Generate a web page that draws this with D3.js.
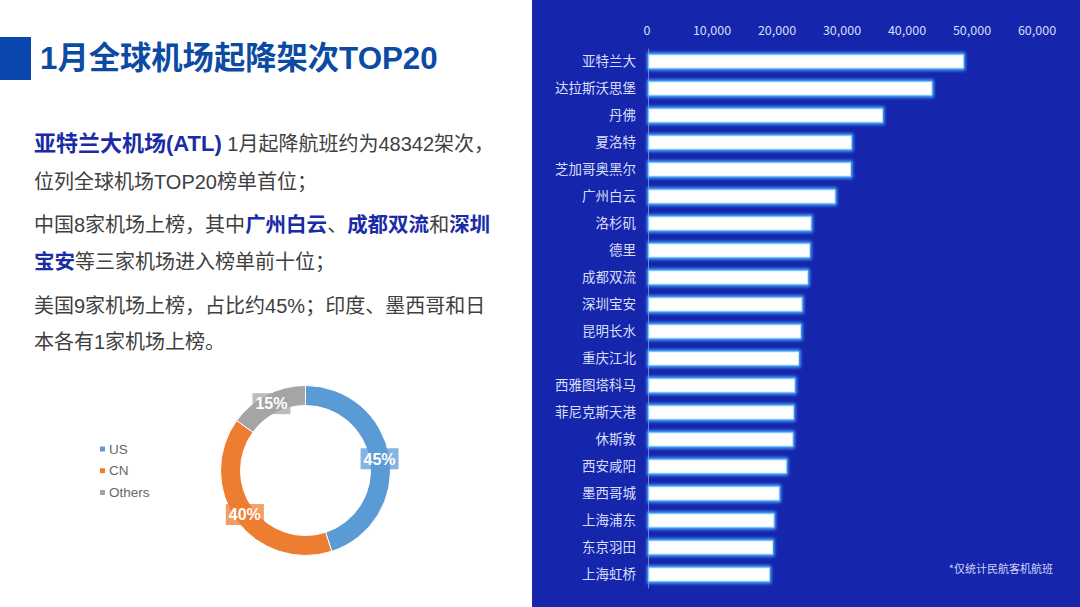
<!DOCTYPE html>
<html>
<head>
<meta charset="utf-8">
<script src="https://cdn.jsdelivr.net/npm/d3@7"></script>
<style>
  html, body { margin: 0; padding: 0; background: #fff; }
  svg { display: block; }
  text { font-family: "Noto Sans CJK SC", "Liberation Sans", sans-serif; }
  .latin { font-family: "Liberation Sans", "Noto Sans CJK SC", sans-serif; }
  .axis path, .axis line { stroke: #6f7fd0; }
  .axis text { fill: #d8def8; font-size: 13.5px; }
  .plain { fill: #404040; font-size: 20px; font-weight: 400; }
  .lead { fill: #1a2ba8; font-size: 22px; font-weight: 700; }
  .hi { fill: #1a2ba8; font-size: 20.5px; font-weight: 700; }
</style>
</head>
<body>
<svg id="chart" width="1080" height="607"></svg>
<script>
const airports = ['亚特兰大', '达拉斯沃思堡', '丹佛', '夏洛特', '芝加哥奥黑尔', '广州白云', '洛杉矶', '德里', '成都双流', '深圳宝安',
  '昆明长水', '重庆江北', '西雅图塔科马', '菲尼克斯天港', '休斯敦', '西安咸阳', '墨西哥城', '上海浦东', '东京羽田', '上海虹桥'];
const flights = [48342, 43500, 35900, 31100, 31000, 28600, 24900, 24700, 24400, 23500,
  23300, 23000, 22400, 22200, 22100, 21100, 20000, 19200, 19000, 18500];
const xTicks = [0, 10000, 20000, 30000, 40000, 50000, 60000];

const regions = ['US', 'CN', 'Others'];
const shares = [45, 40, 15];
const regionColors = ['#5b9bd5', '#ed7d31', '#a5a5a5'];

const bodyLines = [
  [['亚特兰大机场(ATL)', 'lead'], [' 1月起降航班约为48342架次，', 'plain']],
  [['位列全球机场TOP20榜单首位；', 'plain']],
  [['中国8家机场上榜，其中', 'plain'], ['广州白云', 'hi'], ['、', 'plain'], ['成都双流', 'hi'], ['和', 'plain'], ['深圳', 'hi']],
  [['宝安', 'hi'], ['等三家机场进入榜单前十位；', 'plain']],
  [['美国9家机场上榜，占比约45%；印度、墨西哥和日', 'plain']],
  [['本各有1家机场上榜。', 'plain']]
];
const bodyY = [151, 189, 232, 269, 313, 349];

const svg = d3.select('#chart');

// glow for the bars
const glow = svg.append('defs').append('filter')
  .attr('id', 'glow').attr('x', '-5%').attr('y', '-80%').attr('width', '110%').attr('height', '260%');
glow.append('feGaussianBlur').attr('stdDeviation', 1.8);

// left panel
svg.append('rect').attr('x', 0).attr('y', 37).attr('width', 31).attr('height', 43).attr('fill', '#0a47ae');
svg.append('text').attr('class', 'latin').attr('x', 40).attr('y', 69)
  .attr('fill', '#0b4ba3').style('font-size', '31.3px').style('font-weight', 700)
  .text('1月全球机场起降架次TOP20');

const body = svg.append('g');
bodyLines.forEach((line, i) => {
  const t = body.append('text').attr('class', 'latin').attr('x', 34).attr('y', bodyY[i]);
  line.forEach(part => {
    t.append('tspan').attr('class', part[1]).text(part[0]);
  });
});

// donut
const pie = d3.pie().sort(null);
const arc = d3.arc().innerRadius(65).outerRadius(85);
const donut = svg.append('g').attr('transform', 'translate(305.5,470.5)');
const slices = pie(shares);

donut.selectAll('path')
  .data(slices)
  .enter()
  .append('path')
  .attr('d', arc)
  .attr('fill', (d, i) => regionColors[i])
  .attr('stroke', '#fff')
  .attr('stroke-width', 1);

const labels = donut.selectAll('g.share')
  .data(slices)
  .enter()
  .append('g')
  .attr('class', 'share')
  .attr('transform', d => `translate(${arc.centroid(d)})`);
labels.append('rect')
  .attr('x', -19).attr('y', -10.5).attr('width', 38).attr('height', 21)
  .attr('fill', (d, i) => regionColors[i]).attr('fill-opacity', 0.75);
labels.append('text')
  .attr('class', 'latin')
  .attr('text-anchor', 'middle').attr('dy', '.36em')
  .attr('fill', '#fff')
  .style('font-size', '16px').style('font-weight', 700)
  .text(d => d.data + '%');

// legend
const legendY = d3.scalePoint().domain(regions).range([449, 492.5]);
const legend = svg.selectAll('g.legend')
  .data(regions)
  .enter()
  .append('g')
  .attr('class', 'legend')
  .attr('transform', d => `translate(100,${legendY(d)})`);
legend.append('rect')
  .attr('x', 0).attr('y', -2.5).attr('width', 5).attr('height', 5)
  .attr('fill', (d, i) => regionColors[i]);
legend.append('text')
  .attr('class', 'latin')
  .attr('x', 9).attr('dy', '.35em')
  .attr('fill', '#666')
  .style('font-size', '13.5px')
  .text(d => d);

// right panel
svg.append('rect').attr('x', 532).attr('y', 0).attr('width', 548).attr('height', 607).attr('fill', '#1526ad');

const x = d3.scaleLinear().domain([0, 60000]).range([648, 1038]);
const y = d3.scaleBand().domain(airports).range([48, 588]);

svg.append('g')
  .attr('class', 'axis')
  .attr('transform', 'translate(-1.5,31)')
  .call(d3.axisTop(x).tickValues(xTicks).tickSize(0).tickPadding(-5).tickFormat(d3.format(',')))
  .call(g => g.select('.domain').remove())
  .selectAll('text').attr('dy', '.35em').attr('y', 0).style('font-size', '12.5px');

svg.append('g')
  .attr('class', 'axis')
  .attr('transform', 'translate(648,0)')
  .call(d3.axisLeft(y).tickSize(0).tickPadding(12));

const rows = svg.selectAll('g.row')
  .data(airports)
  .enter()
  .append('g')
  .attr('class', 'row');

rows.append('rect')
  .attr('x', x(0) + 1)
  .attr('y', d => y(d) + y.bandwidth() / 2 - 7)
  .attr('width', (d, i) => x(flights[i]) - x(0))
  .attr('height', 14)
  .attr('fill', 'none')
  .attr('stroke', '#4db0ff')
  .attr('stroke-width', 4)
  .attr('filter', 'url(#glow)');

rows.append('rect')
  .attr('x', x(0) + 1)
  .attr('y', d => y(d) + y.bandwidth() / 2 - 6.5)
  .attr('width', (d, i) => x(flights[i]) - x(0))
  .attr('height', 13)
  .attr('fill', '#fff')
  .attr('stroke', '#bfe9ff')
  .attr('stroke-width', 1);

svg.append('text')
  .attr('x', 1053).attr('y', 573)
  .attr('text-anchor', 'end')
  .attr('fill', '#cdd4f5')
  .style('font-size', '11px')
  .text('*仅统计民航客机航班');
</script>
</body>
</html>
